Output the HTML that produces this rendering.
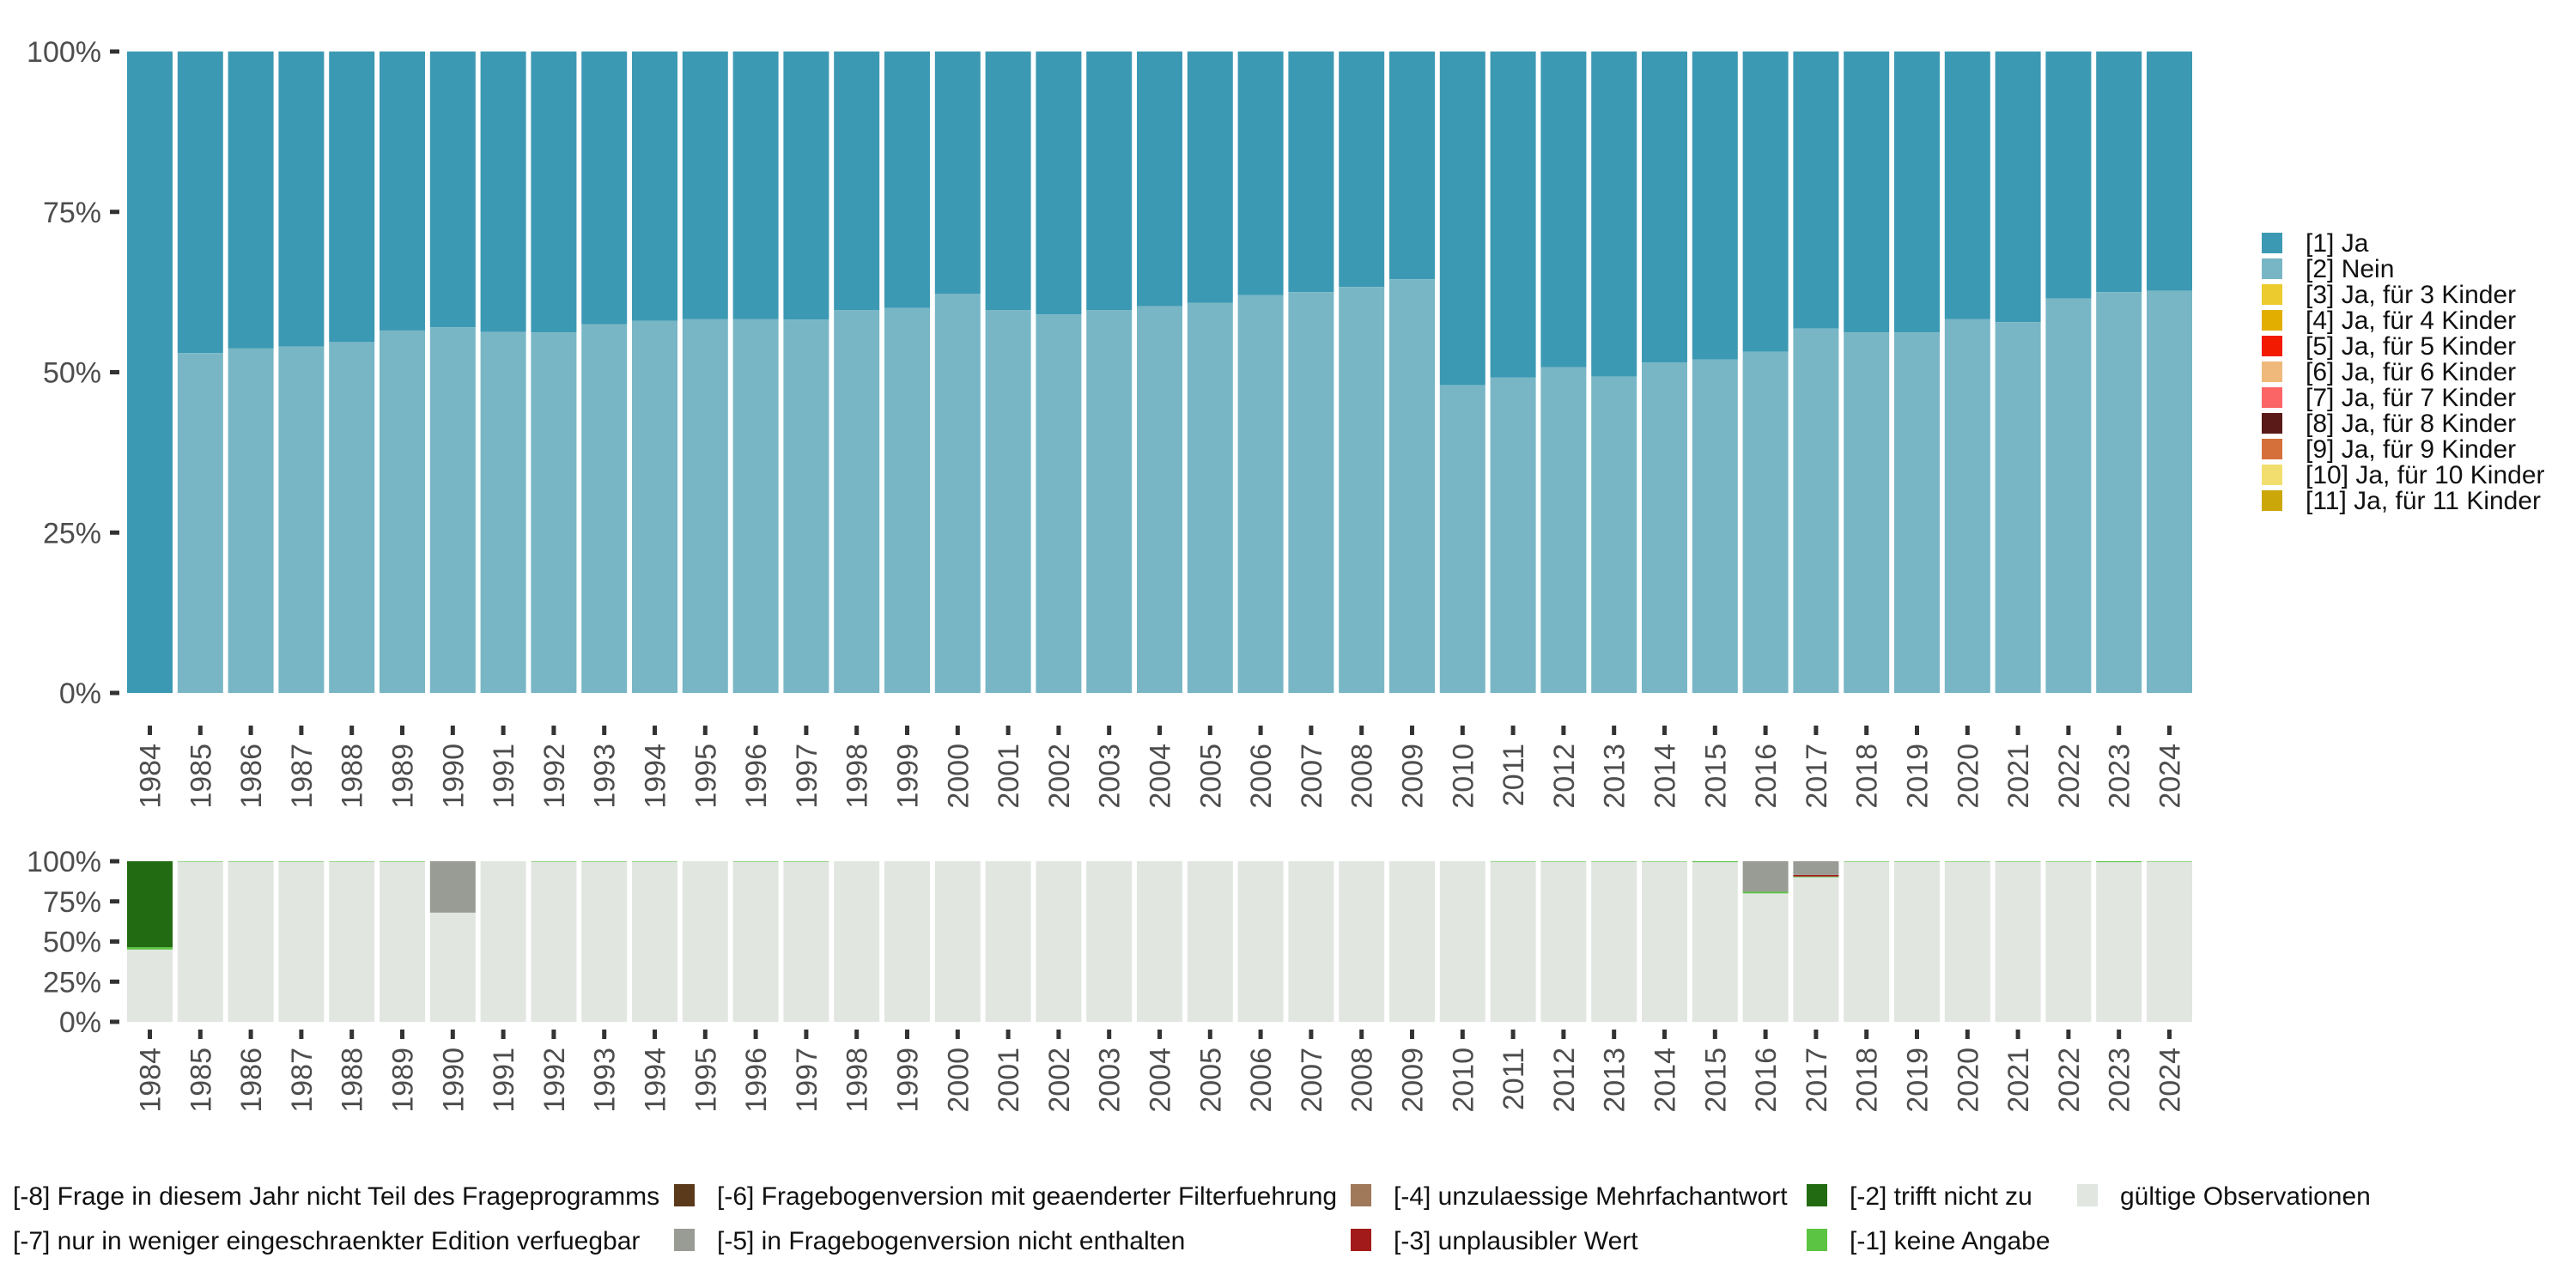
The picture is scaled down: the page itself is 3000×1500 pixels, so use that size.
<!DOCTYPE html>
<html><head><meta charset="utf-8"><style>
html,body{margin:0;padding:0;background:#fff}
svg{display:block;font-family:"Liberation Sans","DejaVu Sans",sans-serif}
</style></head><body>
<svg id="c" width="3000" height="1500" viewBox="0 0 3000 1500"></svg>
<script>
const years=[];for(let y=1984;y<=2024;y++)years.push(y);
const neinShare=[0,.53,.537,.54,.547,.565,.57,.563,.562,.575,.58,.583,.583,.582,.597,.6,.622,.597,.59,.597,.603,.608,.62,.625,.633,.645,.48,.492,.508,.493,.515,.52,.532,.568,.562,.562,.583,.578,.615,.625,.627];
const yTicks=[0,.25,.5,.75,1];
const yTickLabels=["0%","25%","50%","75%","100%"];
const validShare=[.45,.997,.997,.997,.997,.997,.68,1,.997,.997,.997,1,.997,.997,1,1,1,1,1,1,1,1,1,1,1,1,1,.997,.997,.997,.997,.994,.8,.9,.997,.997,.997,.997,.997,.994,.997];
const keineShare=[.015,.003,.003,.003,.003,.003,0,0,.003,.003,.003,0,.003,.003,0,0,0,0,0,0,0,0,0,0,0,0,0,.003,.003,.003,.003,.006,.01,.005,.003,.003,.003,.003,.003,.006,.003];
const trifftShare=[.535,0,0,0,0,0,0,0,0,0,0,0,0,0,0,0,0,0,0,0,0,0,0,0,0,0,0,0,0,0,0,0,0,0,0,0,0,0,0,0,0];
const unplShare=[0,0,0,0,0,0,0,0,0,0,0,0,0,0,0,0,0,0,0,0,0,0,0,0,0,0,0,0,0,0,0,0,0,.01,0,0,0,0,0,0,0];
const versShare=[0,0,0,0,0,0,.32,0,0,0,0,0,0,0,0,0,0,0,0,0,0,0,0,0,0,0,0,0,0,0,0,0,.19,.085,0,0,0,0,0,0,0];

const NS="http://www.w3.org/2000/svg";
const svg=document.getElementById('c');
function mk(t,a,p){const e=document.createElementNS(NS,t);for(const k in a)e.setAttribute(k,a[k]);(p||svg).appendChild(e);return e;}
const x0=174.5,pitch=58.8,bw=53;
function xc(i){return x0+i*pitch;}
function yTop(v){return 807-v*747;}
function yBot(v){return 1190-v*187;}

const gTop=mk('g',{});


years.forEach((yr,i)=>{
  const n=neinShare[i];
  const r1=mk('rect',{x:xc(i)-bw/2,y:yTop(1),width:bw,height:yTop(n)-yTop(1),fill:'#3c99b3'},gTop);
  
  
  const r2=mk('rect',{x:xc(i)-bw/2,y:yTop(n),width:bw,height:yTop(0)-yTop(n),fill:'#78b6c5'},gTop);
  
  
  mk('rect',{x:xc(i)-2.5,y:845,width:5,height:11,fill:'#333'},gTop);
  const t=mk('text',{x:0,y:0,transform:`translate(${xc(i)+12},866) rotate(-90)`,'text-anchor':'end','font-size':34,fill:'#4d4d4d'},gTop);
  t.textContent=yr;
  
  
});
yTicks.forEach((v,j)=>{
  mk('rect',{x:128,y:yTop(v)-2.5,width:11,height:5,fill:'#333'},gTop);
  const t=mk('text',{x:118,y:yTop(v)+12,'text-anchor':'end','font-size':34,fill:'#4d4d4d'},gTop);
  t.textContent=yTickLabels[j];
  
  
});

const gBot=mk('g',{});


const series=[[validShare,'#e1e6e1','valid'],[keineShare,'#5bc443','keine-angabe'],[trifftShare,'#236b12','trifft-nicht-zu'],[unplShare,'#a31a1a','unplausibel'],[versShare,'#999c95','nicht-enthalten']];
years.forEach((yr,i)=>{
  let acc=0;
  series.forEach(s=>{
    const v=s[0][i];if(v<=0)return;
    const r=mk('rect',{x:xc(i)-bw/2,y:yBot(acc+v),width:bw,height:yBot(acc)-yBot(acc+v),fill:s[1]},gBot);
    
    
    acc+=v;
  });
  mk('rect',{x:xc(i)-2.5,y:1199,width:5,height:11,fill:'#333'},gBot);
  const t=mk('text',{x:0,y:0,transform:`translate(${xc(i)+12},1220) rotate(-90)`,'text-anchor':'end','font-size':34,fill:'#4d4d4d'},gBot);
  t.textContent=yr;
  
  
});
yTicks.forEach((v,j)=>{
  mk('rect',{x:128,y:yBot(v)-2.5,width:11,height:5,fill:'#333'},gBot);
  const t=mk('text',{x:118,y:yBot(v)+12,'text-anchor':'end','font-size':34,fill:'#4d4d4d'},gBot);
  t.textContent=yTickLabels[j];
  
  
});

const legLabels=["[1] Ja","[2] Nein","[3] Ja, für 3 Kinder","[4] Ja, für 4 Kinder","[5] Ja, für 5 Kinder","[6] Ja, für 6 Kinder","[7] Ja, für 7 Kinder","[8] Ja, für 8 Kinder","[9] Ja, für 9 Kinder","[10] Ja, für 10 Kinder","[11] Ja, für 11 Kinder"];
const legColors=['#3c99b3','#78b6c5','#ebcb2e','#e2ae00','#f21a00','#eeb97b','#fb6566','#5a1a18','#d6703a','#f2de6e','#cca70a'];
const gL=mk('g',{});


legLabels.forEach((l,i)=>{
  const y=271+i*30;
  mk('rect',{x:2634,y:y,width:24,height:24,fill:legColors[i]},gL);
  const t=mk('text',{x:2685,y:y+22,'font-size':30,fill:'#111'},gL);
  t.textContent=l;
  
  
});

const bl=[
 [null,"[-8] Frage in diesem Jahr nicht Teil des Frageprogramms",15,0],
 ['#5a3a1a',"[-6] Fragebogenversion mit geaenderter Filterfuehrung",785,0],
 ['#a0785a',"[-4] unzulaessige Mehrfachantwort",1573,0],
 ['#236b12',"[-2] trifft nicht zu",2104,0],
 ['#e1e6e1',"gültige Observationen",2419,0],
 [null,"[-7] nur in weniger eingeschraenkter Edition verfuegbar",15,1],
 ['#999c95',"[-5] in Fragebogenversion nicht enthalten",785,1],
 ['#a31a1a',"[-3] unplausibler Wert",1573,1],
 ['#5bc443',"[-1] keine Angabe",2104,1]
];
const gB=mk('g',{});


bl.forEach(e=>{
  const cy=e[3]?1444:1392;
  let tx=e[2];
  if(e[0]){mk('rect',{x:e[2],y:cy-13,width:24,height:26,fill:e[0]},gB);tx=e[2]+50;}
  const t=mk('text',{x:tx,y:cy+11,'font-size':30,fill:'#111'},gB);
  t.textContent=e[1];
  
  
});
</script>
</body></html>
